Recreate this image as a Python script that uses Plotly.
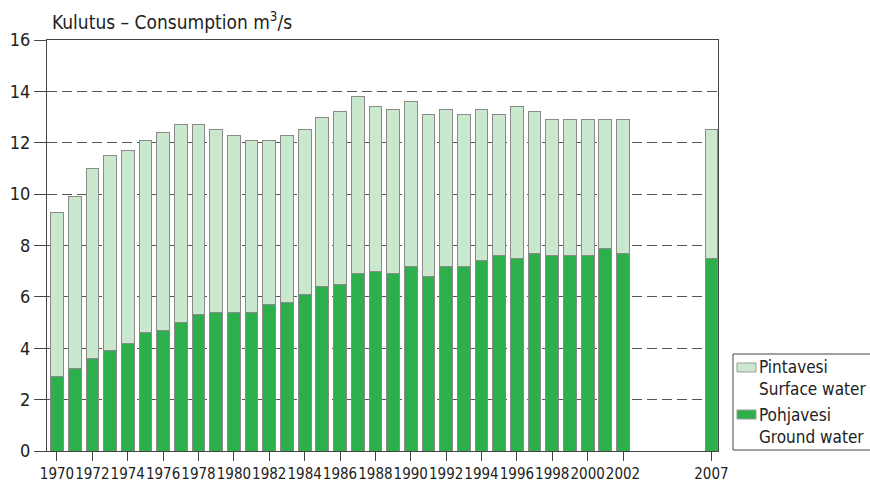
import plotly.graph_objects as go

years = [1970, 1971, 1972, 1973, 1974, 1975, 1976, 1977, 1978, 1979, 1980, 1981,
         1982, 1983, 1984, 1985, 1986, 1987, 1988, 1989, 1990, 1991, 1992, 1993,
         1994, 1995, 1996, 1997, 1998, 1999, 2000, 2001, 2002, 2007]
ground = [2.9, 3.2, 3.6, 3.9, 4.2, 4.6, 4.7, 5.0, 5.3, 5.4, 5.4, 5.4,
          5.7, 5.8, 6.1, 6.4, 6.5, 6.9, 7.0, 6.9, 7.2, 6.8, 7.2, 7.2,
          7.4, 7.6, 7.5, 7.7, 7.6, 7.6, 7.6, 7.9, 7.7, 7.5]
total = [9.3, 9.9, 11.0, 11.5, 11.7, 12.1, 12.4, 12.7, 12.7, 12.5, 12.3, 12.1,
         12.1, 12.3, 12.5, 13.0, 13.2, 13.8, 13.4, 13.3, 13.6, 13.1, 13.3, 13.1,
         13.3, 13.1, 13.4, 13.2, 12.9, 12.9, 12.9, 12.9, 12.9, 12.5]
surface = [round(t - g, 2) for t, g in zip(total, ground)]

tick_vals = list(range(1970, 2003, 2)) + [2007]
tick_text = [str(v) for v in tick_vals]
y_ticks = list(range(0, 17, 2))

names = ["Pohjavesi<br>Ground water", "Pintavesi<br>Surface water"]
colors = ["#2db04b", "#c9e8cd"]

FONT = "DejaVu Sans Condensed, sans-serif"
TXT = "#222"
outline = dict(color="#8a8a8a", width=1)

W, H = 870, 483
L, R, T, B = 47, 152, 40, 32
PW, PH = W - L - R, H - T - B


def px(x):
    return (x - L) / PW


def py(y):
    return (H - B - y) / PH


fig = go.Figure()
fig.add_trace(go.Bar(x=years, y=ground, name=names[0],
                     marker=dict(color=colors[0], line=outline), width=0.72))
fig.add_trace(go.Bar(x=years, y=surface, name=names[1],
                     marker=dict(color=colors[1], line=outline), width=0.72))

shapes = [
    dict(type="rect", xref="paper", yref="paper", x0=px(733), x1=px(880),
         y0=py(450), y1=py(354), line=dict(color="#444", width=1),
         fillcolor="white", layer="above"),
    dict(type="rect", xref="paper", yref="paper", x0=px(737), x1=px(756),
         y0=py(372), y1=py(363), line=dict(color="#9a9a9a", width=1),
         fillcolor=colors[1], layer="above"),
    dict(type="rect", xref="paper", yref="paper", x0=px(737), x1=px(756),
         y0=py(419), y1=py(410), line=dict(color="#9a9a9a", width=1),
         fillcolor=colors[0], layer="above"),
]

leg_lines = [("Pintavesi", 367), ("Surface water", 389),
             ("Pohjavesi", 415), ("Ground water", 437)]
annotations = [dict(text=t, x=px(757), y=py(yy), xref="paper", yref="paper",
                    showarrow=False, xanchor="left", yanchor="middle",
                    font=dict(family=FONT, size=17, color=TXT))
               for t, yy in leg_lines]
annotations.append(dict(text="Kulutus – Consumption m<sup>3</sup>/s",
                        x=px(50), y=py(21), xref="paper", yref="paper",
                        showarrow=False, xanchor="left", yanchor="middle",
                        font=dict(family=FONT, size=19, color=TXT)))

fig.update_layout(
    barmode="stack",
    width=W, height=H,
    margin=dict(l=L, r=R, t=T, b=B, autoexpand=False),
    plot_bgcolor="white", paper_bgcolor="white",
    font=dict(family=FONT, size=15, color=TXT),
    showlegend=False,
    shapes=shapes,
    annotations=annotations,
)

fig.update_xaxes(range=[1969.435, 2007.37], tickmode="array", tickvals=tick_vals,
                 ticktext=tick_text, ticks="outside", ticklen=9, tickcolor="#444",
                 tickangle=0, automargin=False,
                 showline=True, linecolor="#444", linewidth=1, mirror=True,
                 showgrid=False, zeroline=False,
                 tickfont=dict(family=FONT, size=15, color=TXT))
fig.update_yaxes(range=[0, 16], tickmode="array", tickvals=y_ticks,
                 ticks="outside", ticklen=12, tickcolor="#444", automargin=False,
                 showline=True, linecolor="#444", linewidth=1, mirror=True,
                 showgrid=True, gridcolor="#555", griddash="10px,5px", gridwidth=1,
                 zeroline=False, tickfont=dict(family=FONT, size=18, color=TXT))

fig.write_html("out.html", config={"displayModeBar": False},
               post_script="document.body.style.margin='0';"
                           "document.body.style.overflow='hidden';")
